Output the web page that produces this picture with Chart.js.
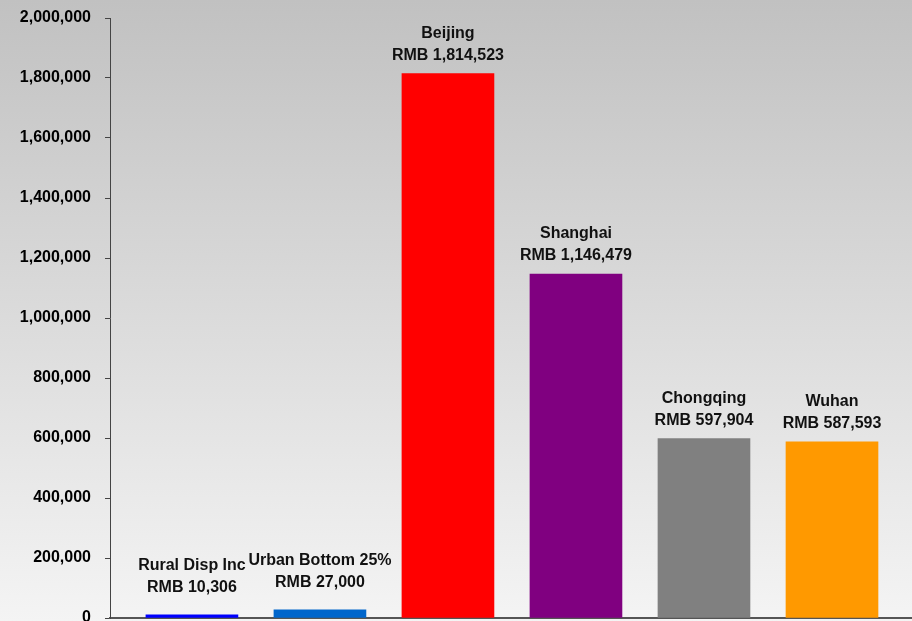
<!DOCTYPE html>
<html lang="en">
<head>
    <meta charset="UTF-8">
    <title>Household Income Comparison (RMB)</title>
    <script src="https://cdn.jsdelivr.net/npm/chart.js"></script>
    <style>
        body, html {
            margin: 0;
            padding: 0;
            width: 912px;
            height: 621px;
            overflow: hidden;
            font-family: "Liberation Sans", Arial, sans-serif;
        }
        #wrap { width: 912px; height: 621px; }
    </style>
</head>
<body>
    <div id="wrap"><canvas id="incomeChart"></canvas></div>

    <script>
        const categories = ["Rural Disp Inc", "Urban Bottom 25%", "Beijing", "Shanghai", "Chongqing", "Wuhan"];
        const values = [10306, 27000, 1814523, 1146479, 597904, 587593];
        const barColors = ["#0000ff", "#0066cc", "#ff0000", "#800080", "#808080", "#ff9900"];
        const yTicks = [0, 200000, 400000, 600000, 800000, 1000000, 1200000, 1400000, 1600000, 1800000, 2000000];

        const fmt = v => v.toLocaleString('en-US');
        const FONT = '"Liberation Sans", Arial, sans-serif';

        // grey-to-white backdrop over the whole canvas
        const backdrop = {
            id: 'backdrop',
            beforeDraw(chart) {
                const { ctx, width, height } = chart;
                const g = ctx.createLinearGradient(0, 0, 0, height);
                g.addColorStop(0, '#c1c1c1');
                g.addColorStop(1, '#f4f4f4');
                ctx.save();
                ctx.fillStyle = g;
                ctx.fillRect(0, 0, width, height);
                ctx.restore();
            }
        };

        // two-line labels above each bar
        const barLabels = {
            id: 'barLabels',
            afterDatasetsDraw(chart) {
                const { ctx } = chart;
                const meta = chart.getDatasetMeta(0);
                ctx.save();
                ctx.font = 'bold 16px ' + FONT;
                ctx.fillStyle = '#111';
                ctx.textAlign = 'center';
                ctx.textBaseline = 'middle';
                meta.data.forEach((bar, i) => {
                    const gap = values[i] < 100000 ? 27 : 18;
                    const y2 = bar.y - gap;
                    ctx.fillText(categories[i], bar.x, y2 - 22);
                    ctx.fillText('RMB ' + fmt(values[i]), bar.x, y2);
                });
                ctx.restore();
            }
        };

        const ctx = document.getElementById('incomeChart').getContext('2d');
        new Chart(ctx, {
            type: 'bar',
            data: {
                datasets: [{
                    data: values.map((v, i) => ({ x: i, y: v })),
                    backgroundColor: barColors,
                    borderWidth: 0,
                    barThickness: 92
                }]
            },
            options: {
                responsive: true,
                maintainAspectRatio: false,
                animation: false,
                layout: { padding: { top: 18, right: 0, bottom: 3, left: 0 } },
                scales: {
                    x: {
                        type: 'linear',
                        offset: false,
                        min: -0.64,
                        max: 5.625,
                        afterFit: scale => { scale.height = 0; },
                        ticks: { display: false },
                        grid: { display: false, drawTicks: false, tickLength: 0 },
                        border: { display: true, color: '#555', width: 2 }
                    },
                    y: {
                        min: 0,
                        max: 2000000,
                        afterFit: scale => {
                            scale.width = 110;
                            scale.paddingTop = 0;
                            scale.paddingBottom = 0;
                        },
                        afterBuildTicks: scale => { scale.ticks = yTicks.map(v => ({ value: v })); },
                        ticks: {
                            color: '#000',
                            padding: 14,
                            font: { family: FONT, size: 16, weight: 'bold' },
                            callback: v => fmt(v)
                        },
                        grid: { drawOnChartArea: false, drawTicks: true, tickLength: 5, color: '#444' },
                        border: { display: true, color: '#444', width: 1 }
                    }
                },
                plugins: {
                    legend: { display: false },
                    tooltip: { enabled: false }
                }
            },
            plugins: [backdrop, barLabels]
        });
    </script>
</body>
</html>
